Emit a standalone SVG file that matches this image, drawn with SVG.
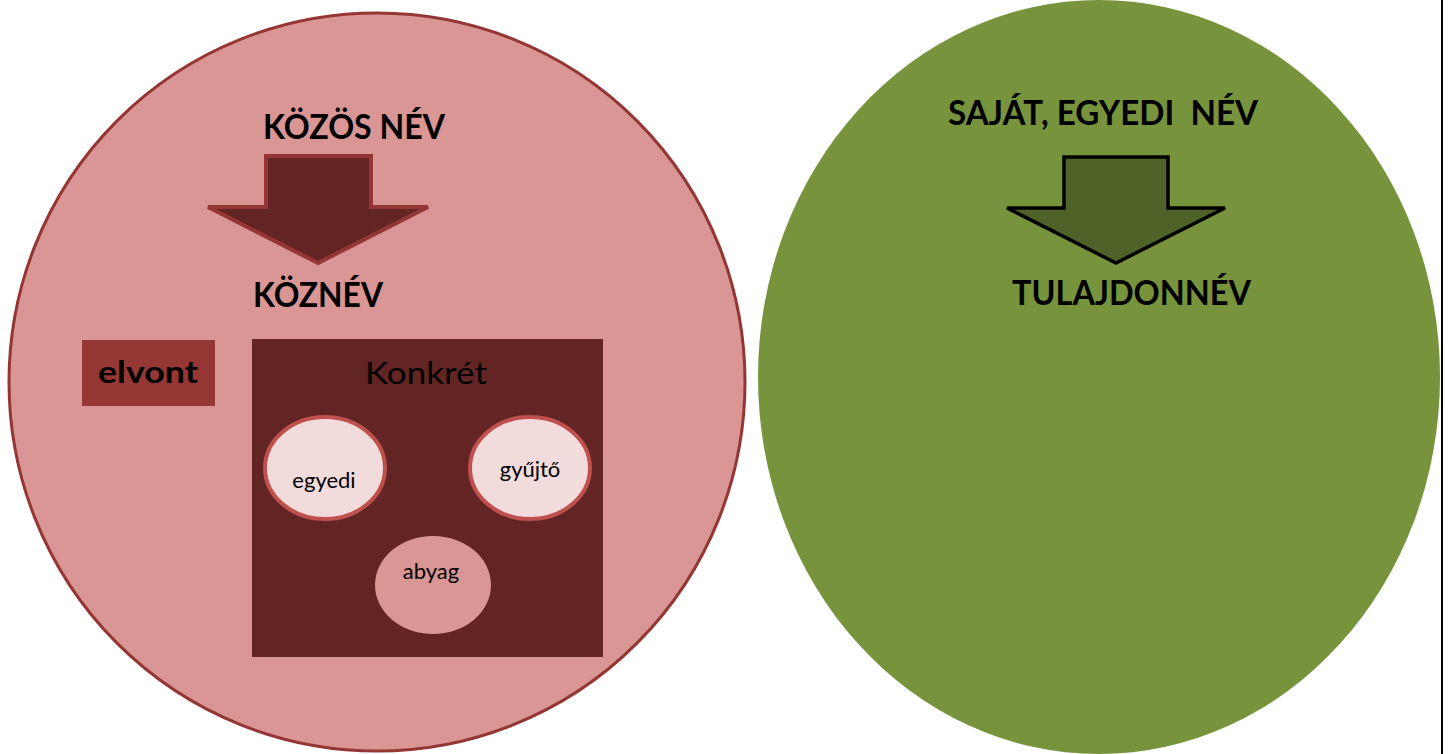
<svg xmlns="http://www.w3.org/2000/svg" width="1450" height="754" viewBox="0 0 1450 754">
<style>
.h{font-family:Lato,"Open Sans","Liberation Sans",sans-serif;font-weight:bold;fill:#000}
.r{font-family:Lato,"Open Sans","Liberation Sans",sans-serif;fill:#000}
.small{fill:#F2DCDB;stroke:#C0504D;stroke-width:4}
</style>
<rect width="1450" height="754" fill="#fff"/>
<line x1="1442" y1="0" x2="1442" y2="754" stroke="#000" stroke-width="2"/>
<g id="kozos">
<ellipse cx="377" cy="382" rx="368" ry="369" fill="#D99694" stroke="#943634" stroke-width="3"/>
<text class="h" x="263" y="139" font-size="34" textLength="182" lengthAdjust="spacingAndGlyphs">KÖZÖS NÉV</text>
<polygon points="266,156 371,156 371,207 428,207 318,263 208,207 266,207" fill="#632523" stroke="#943634" stroke-width="4" stroke-linejoin="miter"/>
<text class="h" x="253" y="307" font-size="34" textLength="130" lengthAdjust="spacingAndGlyphs">KÖZNÉV</text>
</g>
<g id="elvont">
<rect x="82" y="340" width="133" height="66" fill="#953735"/>
<text class="h" x="98" y="383" font-size="31" textLength="100" lengthAdjust="spacingAndGlyphs">elvont</text>
</g>
<g id="konkret">
<rect x="252" y="339" width="351" height="318" fill="#632523"/>
<text class="r" x="365" y="384" font-size="31" textLength="122" lengthAdjust="spacingAndGlyphs">Konkrét</text>
</g>
<g id="egyedi">
<ellipse class="small" cx="325" cy="468" rx="60" ry="51"/>
<text class="r" x="324" y="488" font-size="22" text-anchor="middle">egyedi</text>
</g>
<g id="gyujto">
<ellipse class="small" cx="530" cy="468" rx="60" ry="51"/>
<text class="r" x="530" y="477" font-size="22" text-anchor="middle">gyűjtő</text>
</g>
<g id="abyag">
<ellipse cx="433" cy="585" rx="58" ry="49" fill="#D99694"/>
<text class="r" x="431" y="579" font-size="22" text-anchor="middle">abyag</text>
</g>
<g id="sajat">
<ellipse cx="1099" cy="377" rx="341" ry="377" fill="#77933C"/>
<text class="h" x="948" y="125" font-size="34" textLength="310" lengthAdjust="spacingAndGlyphs" xml:space="preserve">SAJÁT, EGYEDI  NÉV</text>
<polygon points="1064,157 1168,157 1168,208 1225,208 1116,263 1007,208 1064,208" fill="#4F6228" stroke="#000" stroke-width="3.5"/>
<text class="h" x="1012" y="305" font-size="34" textLength="239" lengthAdjust="spacingAndGlyphs">TULAJDONNÉV</text>
</g>
<g id="connectors"></g>
</svg>
